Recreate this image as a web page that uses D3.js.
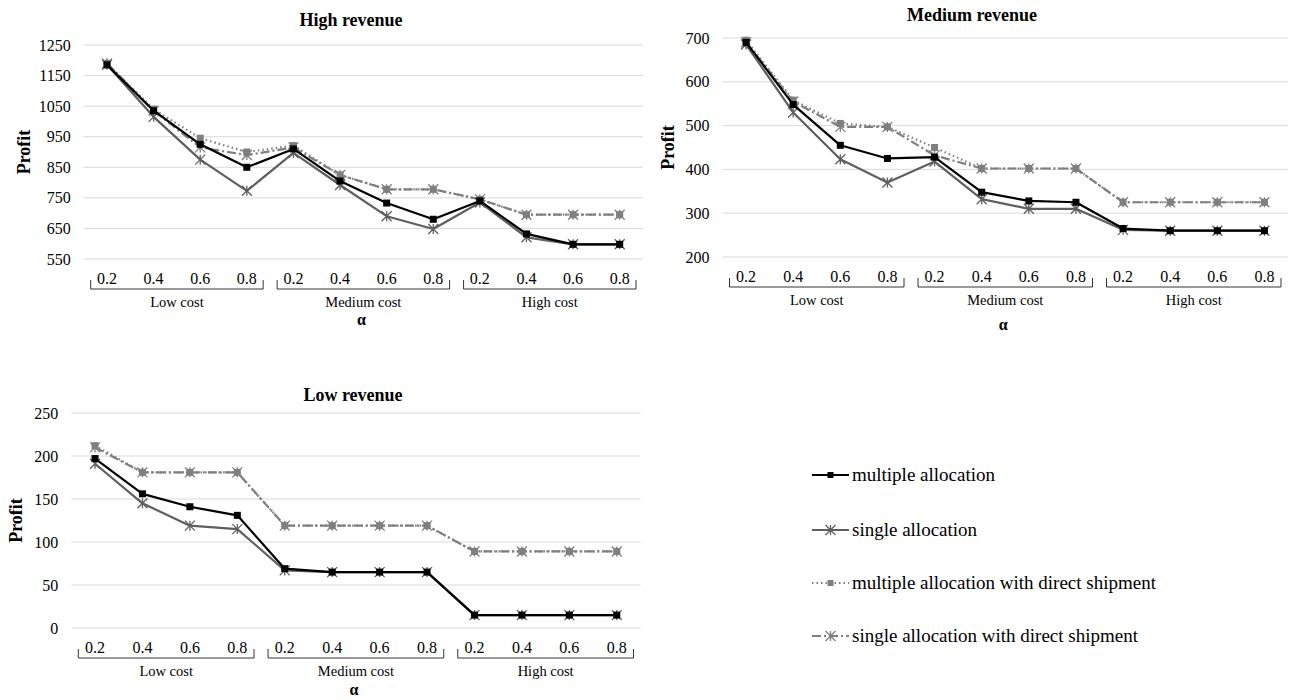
<!DOCTYPE html>
<html lang="en">
<head>
<meta charset="UTF-8">
<title>Profit by revenue level</title>
<script src="https://cdnjs.cloudflare.com/ajax/libs/d3/7.8.5/d3.min.js"></script>
<style>
    body { margin: 0; background: #fff; }
    svg { display: block; font-family: "Liberation Serif", "Times New Roman", serif; }
    svg text { font-family: "Liberation Serif", "Times New Roman", serif; }
    .grid line { stroke: #d9d9d9; stroke-width: 1; }
    .tick text { font-size: 16px; fill: #000; }
</style>
</head>
<body>
<svg width="1295" height="700"></svg>
<script>
    // categories
    const groups = ["Low cost", "Medium cost", "High cost"];
    const alphas = ["0.2", "0.4", "0.6", "0.8"];
    const seriesNames = ["multiple allocation", "single allocation",
        "multiple allocation with direct shipment", "single allocation with direct shipment"];

    // High revenue
    const highMultiple = [1185, 1035, 925, 850, 910, 805, 733, 680, 740, 632, 598, 598];
    const highSingle = [1185, 1015, 875, 773, 897, 792, 690, 648, 735, 621, 598, 598];
    const highMultipleDirect = [1190, 1040, 945, 900, 921, 825, 778, 778, 745, 695, 695, 695];
    const highSingleDirect = [1190, 1035, 915, 890, 915, 825, 778, 778, 745, 695, 695, 695];

    // Medium revenue
    const medMultiple = [690, 548, 455, 425, 428, 348, 328, 325, 265, 260, 260, 260];
    const medSingle = [685, 530, 423, 370, 418, 332, 310, 310, 262, 260, 260, 260];
    const medMultipleDirect = [695, 558, 505, 497, 450, 402, 402, 402, 325, 325, 325, 325];
    const medSingleDirect = [690, 555, 497, 497, 432, 402, 402, 402, 325, 325, 325, 325];

    // Low revenue
    const lowMultiple = [197, 156, 141, 131, 69, 65, 65, 65, 15, 15, 15, 15];
    const lowSingle = [191, 145, 119, 115, 67, 65, 65, 65, 15, 15, 15, 15];
    const lowMultipleDirect = [212, 181, 181, 181, 119, 119, 119, 119, 89, 89, 89, 89];
    const lowSingleDirect = [210, 181, 181, 181, 119, 119, 119, 119, 89, 89, 89, 89];

    const highTicks = [550, 650, 750, 850, 950, 1050, 1150, 1250];
    const medTicks = [200, 300, 400, 500, 600, 700];
    const lowTicks = [0, 50, 100, 150, 200, 250];

    const serif = '"Liberation Serif", "Times New Roman", serif';

    const styles = [
        { color: "#000000", dash: null, marker: "square" },
        { color: "#5f5f5f", dash: null, marker: "star" },
        { color: "#7f7f7f", dash: "1.5,3", marker: "square" },
        { color: "#7f7f7f", dash: "9,3,2,3", marker: "star" }
    ];

    const panels = [
        { title: "High revenue", titleX: 351, titleY: 26, x0: 83.7, x1: 643, yTop: 45, yBot: 259,
          ticks: highTicks, series: [highMultiple, highSingle, highMultipleDirect, highSingleDirect],
          labelX: 24, alphaY: 325 },
        { title: "Medium revenue", titleX: 972, titleY: 21, x0: 722.5, x1: 1288, yTop: 38, yBot: 257,
          ticks: medTicks, series: [medMultiple, medSingle, medMultipleDirect, medSingleDirect],
          labelX: 668, alphaY: 330 },
        { title: "Low revenue", titleX: 353, titleY: 401, x0: 71.3, x1: 640.5, yTop: 413, yBot: 628,
          ticks: lowTicks, series: [lowMultiple, lowSingle, lowMultipleDirect, lowSingleDirect],
          labelX: 16, alphaY: 695 }
    ];

    const svg = d3.select("svg");
    const cats = [];
    groups.forEach(g => alphas.forEach(a => cats.push(g + "|" + a)));

    function drawMarker(g, type, x, y, color) {
        if (type === "square") {
            g.append("rect").attr("x", x - 3.5).attr("y", y - 3.5)
                .attr("width", 7).attr("height", 7).attr("fill", color);
        } else {
            const r = 5;
            g.append("path")
                .attr("d", `M${x - r},${y - r}L${x + r},${y + r}M${x - r},${y + r}L${x + r},${y - r}M${x},${y - r}L${x},${y + r}`)
                .attr("stroke", color).attr("stroke-width", 1.3).attr("fill", "none");
        }
    }

    panels.forEach(p => {
        const x = d3.scaleBand().domain(cats).range([p.x0, p.x1]);
        const y = d3.scaleLinear().domain([p.ticks[0], p.ticks[p.ticks.length - 1]]).range([p.yBot, p.yTop]);
        const g = svg.append("g");

        // gridlines
        g.append("g").attr("class", "grid")
            .selectAll("line").data(p.ticks).join("line")
            .attr("x1", p.x0).attr("x2", p.x1)
            .attr("y1", d => y(d)).attr("y2", d => y(d));

        // y axis labels
        const ya = g.append("g").attr("transform", `translate(${p.x0 - 6},0)`)
            .call(d3.axisLeft(y).tickValues(p.ticks).tickFormat(d3.format("d")).tickSize(0).tickPadding(7));
        ya.attr("font-family", serif).attr("font-size", 16);
        ya.selectAll("text").style("font-family", serif).style("font-size", "16px");
        ya.select(".domain").remove();

        // x axis labels
        const xa = g.append("g").attr("transform", `translate(0,${p.yBot + 14})`)
            .call(d3.axisBottom(x).tickSize(0).tickPadding(0).tickFormat(d => d.split("|")[1]));
        xa.attr("font-family", serif).attr("font-size", 16);
        xa.select(".domain").remove();
        xa.selectAll("text").attr("dy", "0.71em").attr("y", 0)
            .style("font-family", serif).style("font-size", "16px");

        // group brackets
        groups.forEach((gr, i) => {
            const a = x(gr + "|" + alphas[0]) + 7;
            const b = x(gr + "|" + alphas[alphas.length - 1]) + x.bandwidth() - 7;
            const by = p.yBot + 30;
            g.append("path").attr("d", `M${a},${by - 9}L${a},${by}L${b},${by}L${b},${by - 9}`)
                .attr("fill", "none").attr("stroke", "#000").attr("stroke-width", 0.8);
            g.append("text").attr("x", (a + b) / 2).attr("y", p.yBot + 48)
                .attr("text-anchor", "middle").attr("font-size", 14.5).text(gr);
        });

        g.append("text").attr("x", (p.x0 + p.x1) / 2 - 2).attr("y", p.alphaY)
            .attr("text-anchor", "middle").attr("font-size", 16).attr("font-weight", "bold").text("α");

        g.append("text").attr("x", p.titleX).attr("y", p.titleY)
            .attr("text-anchor", "middle").attr("font-size", 18).attr("font-weight", "bold").text(p.title);

        const cy = (p.yTop + p.yBot) / 2;
        g.append("text").attr("transform", `translate(${p.labelX + 6},${cy}) rotate(-90)`)
            .attr("text-anchor", "middle").attr("font-size", 18).attr("font-weight", "bold").text("Profit");

        // series, drawn back to front
        const line = d3.line().x((d, i) => x(cats[i]) + x.bandwidth() / 2).y(d => y(d));
        [3, 2, 1, 0].forEach(si => {
            const s = styles[si];
            const vals = p.series[si];
            g.append("path").datum(vals).attr("d", line)
                .attr("fill", "none").attr("stroke", s.color).attr("stroke-width", 2.2)
                .attr("stroke-dasharray", s.dash).attr("stroke-linejoin", "round");
            const mg = g.append("g");
            vals.forEach((v, i) => drawMarker(mg, s.marker, x(cats[i]) + x.bandwidth() / 2, y(v), s.color));
        });
    });

    // legend
    const legend = svg.append("g");
    const legendY = [475, 530, 583, 636];
    seriesNames.forEach((name, i) => {
        const s = styles[i];
        const ly = legendY[i];
        legend.append("line").attr("x1", 812).attr("x2", 849).attr("y1", ly).attr("y2", ly)
            .attr("stroke", s.color).attr("stroke-width", 2.2).attr("stroke-dasharray", s.dash);
        if (s.marker === "square") {
            legend.append("rect").attr("x", 827.5).attr("y", ly - 3).attr("width", 6).attr("height", 6).attr("fill", s.color);
        } else {
            drawMarker(legend, "star", 830.5, ly, s.color);
        }
        legend.append("text").attr("x", 852).attr("y", ly + 6).attr("font-size", 19).text(name);
    });
</script>
</body>
</html>
